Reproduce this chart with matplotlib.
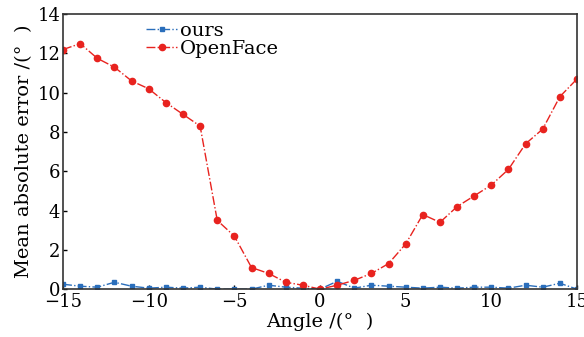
import matplotlib
matplotlib.use("Agg")
import matplotlib.pyplot as plt
import numpy as np

# ================== Data ==================
angles = list(range(-15, 16))
ours = [0.25, 0.15, 0.1, 0.35, 0.15, 0.05, 0.1, 0.05, 0.1, 0.0, 0.0, 0.0, 0.2, 0.1, 0.05,
        0.0,
        0.4, 0.05, 0.2, 0.15, 0.1, 0.05, 0.1, 0.05, 0.1, 0.1, 0.05, 0.2, 0.1, 0.3, 0.0]
openface = [12.2, 12.5, 11.75, 11.3, 10.6, 10.2, 9.5, 8.9, 8.3, 3.5, 2.7, 1.1, 0.8, 0.35, 0.2,
            0.0,
            0.2, 0.45, 0.8, 1.3, 2.3, 3.8, 3.4, 4.2, 4.75, 5.3, 6.1, 7.4, 8.15, 9.8, 10.7]
xticks = [-15, -10, -5, 0, 5, 10, 15]
yticks = [0, 2, 4, 6, 8, 10, 12, 14]

plt.rcParams['font.family'] = ['DejaVu Serif']

fig = plt.figure(figsize=(5.84, 3.37), dpi=100)
ax = fig.add_axes([0.108, 0.142, 0.880, 0.816])

ax.plot(angles, ours, linestyle='-.', color='#2a6ebb', marker='s', markersize=3,
        linewidth=1.0, label='ours')
ax.plot(angles, openface, linestyle='-.', color='#e8231f', marker='o', markersize=4.5,
        linewidth=1.0, label='OpenFace')

ax.set_xlim(-15, 15)
ax.set_ylim(0, 14)
ax.set_xticks(xticks)
ax.set_yticks(yticks)
ax.set_xticklabels([str(t).replace('-', '\u2212') for t in xticks])
ax.tick_params(direction='in', labelsize=13, length=3, width=1)
ax.tick_params(axis='x', pad=3)
ax.tick_params(axis='y', pad=2)
ax.set_xlabel('Angle /(°  )', fontsize=14, labelpad=1)
ax.set_ylabel('Mean absolute error /(°  )', fontsize=14, labelpad=3)
for s in ax.spines.values():
    s.set_linewidth(1.2)
    s.set_color('#333333')

ax.legend(loc='upper left', bbox_to_anchor=(0.135, 1.02), frameon=False, fontsize=14,
          handlelength=1.6, handletextpad=0.15, labelspacing=0.0, borderpad=0.2)

fig.savefig('out.png', dpi=100)
